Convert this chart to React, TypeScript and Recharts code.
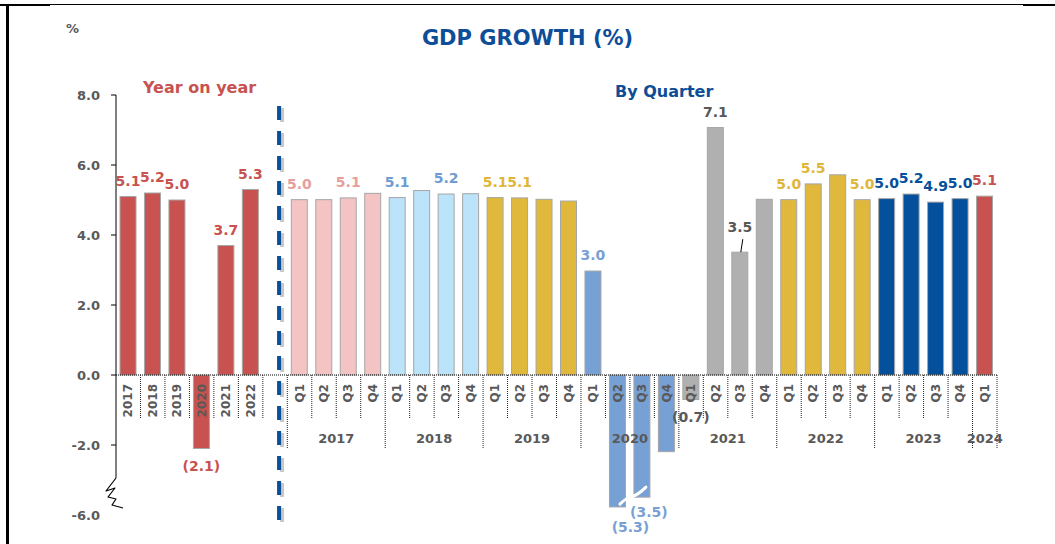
import React from 'react';
import { BarChart, Bar, XAxis, YAxis, Cell, LabelList, ReferenceLine } from 'recharts';

// Annual growth (year on year)
const annualYears = ['2017', '2018', '2019', '2020', '2021', '2022'];
const annualGrowth = [5.1, 5.2, 5.0, -2.1, 3.7, 5.3];

// Quarterly growth
const quarterNames = ['Q1', 'Q2', 'Q3', 'Q4'];
const quarterYears = ['2017', '2018', '2019', '2020', '2021', '2022', '2023', '2024'];
const quarterlyGrowth = [
  5.01, 5.01, 5.06, 5.19,
  5.07, 5.27, 5.17, 5.18,
  5.07, 5.06, 5.02, 4.97,
  2.97, -5.32, -3.49, -2.19,
  -0.7, 7.07, 3.51, 5.02,
  5.01, 5.46, 5.72, 5.01,
  5.04, 5.17, 4.94, 5.04,
  5.11,
];

// y axis ticks (the chart breaks its axis below -2)
const yTickValues = [8, 6, 4, 2, 0, -2, -4];
const yTickLabels = ['8.0', '6.0', '4.0', '2.0', '0.0', '-2.0', '-6.0'];

const shownQuarterLabels = [
  '2017Q1', '2017Q3', '2018Q1', '2018Q3', '2019Q1', '2019Q2',
  '2020Q1', '2020Q2', '2020Q3', '2021Q1', '2021Q2', '2021Q3',
  '2022Q1', '2022Q2', '2022Q4', '2023Q1', '2023Q2', '2023Q3', '2023Q4', '2024Q1',
];

const ANNUAL_COLOR = '#C8524F';
const barColors: Record<string, string> = {
  '2017': '#F4C4C4', '2018': '#BBE3FA', '2019': '#E0B93C', '2020': '#77A0D4',
  '2021': '#B0B0B0', '2022': '#E0B93C', '2023': '#05509C', '2024': '#C8524F',
};
const labelColors: Record<string, string> = {
  '2017': '#E69E9E', '2018': '#6F9BD2', '2019': '#DFB63A', '2020': '#79A0D4',
  '2021': '#595959', '2022': '#DFB63A', '2023': '#05509C', '2024': '#C8524F',
};
// small label nudges like in the original
const labelNudge: Record<string, [number, number]> = {
  '2020Q2': [13, 3],
  '2020Q3': [7, -2],
  '2021Q3': [0, -9],
};

type Row = { id: string; label: string; year: string; kind: string; value: number | null };

const rows: Row[] = [
  ...annualYears.map((y, i) => ({ id: 'Y' + y, label: y, year: y, kind: 'annual', value: annualGrowth[i] })),
  { id: 'gap', label: '', year: '', kind: 'gap', value: null },
  ...quarterlyGrowth.map((v, i) => {
    const y = quarterYears[Math.floor(i / 4)];
    const q = quarterNames[i % 4];
    return { id: y + q, label: q, year: y, kind: 'quarter', value: v };
  }),
];
// bars / labels are indexed without the empty slot
const barRows = rows.filter((r) => r.value != null);

// layout
const W = 1055;
const H = 544;
const PLOT_LEFT = 116;
const PLOT_RIGHT = 997;
const PLOT_TOP = 95;
const PLOT_BOTTOM = 515;
const Y_MIN = -4;
const Y_MAX = 8;
const Y_AXIS_W = 60;
const X_AXIS_H = 20;
const PLOT_H = PLOT_BOTTOM - PLOT_TOP;
const BAND = (PLOT_RIGHT - PLOT_LEFT) / rows.length;
const yOf = (v: number) => PLOT_TOP + ((Y_MAX - v) / (Y_MAX - Y_MIN)) * PLOT_H;
const ZERO_Y = yOf(0);
const BREAK_Y = yOf(-3.77);
const TEXT_GRAY = '#595959';
const FONT = 'DejaVu Sans';

const isGroupStart = (i: number) =>
  rows[i].kind === 'quarter' && (rows[i - 1].kind !== 'quarter' || rows[i - 1].year !== rows[i].year);
const groupSize = (year: string) => rows.filter((r) => r.kind === 'quarter' && r.year === year).length;

const XTick = (props: any) => {
  const { x, payload } = props;
  const i = payload.index;
  const row = rows[i];
  const left = x - BAND / 2;
  const shortLen = 43;
  const longLen = 74;
  const sep = (sx: number, len: number, key: string) => (
    <line key={key} x1={sx} x2={sx} y1={ZERO_Y} y2={ZERO_Y + len} stroke="#222" strokeDasharray="1 1" />
  );
  const items: any[] = [];
  if (i > 0) items.push(sep(left, isGroupStart(i) ? longLen : shortLen, 'l'));
  if (i === rows.length - 1) items.push(sep(x + BAND / 2, longLen, 'r'));
  if (row.label) {
    items.push(
      <text
        key="t"
        x={x}
        y={ZERO_Y + 9}
        transform={`rotate(-90 ${x} ${ZERO_Y + 9})`}
        textAnchor="end"
        dominantBaseline="central"
        fontSize={12}
        fontWeight="bold"
        fill={TEXT_GRAY}
        fontFamily={FONT}
      >
        {row.label}
      </text>
    );
  }
  if (isGroupStart(i)) {
    const cx = x + ((groupSize(row.year) - 1) * BAND) / 2;
    items.push(
      <text key="g" x={cx} y={ZERO_Y + 63} textAnchor="middle" dominantBaseline="central"
        fontSize={13} fontWeight="bold" fill={TEXT_GRAY} fontFamily={FONT}>
        {row.year}
      </text>
    );
  }
  return <g>{items}</g>;
};

const YTick = (props: any) => {
  const { y, payload } = props;
  const v = payload.value;
  const idx = yTickValues.indexOf(v);
  const step = PLOT_H / (yTickValues.length - 1);
  const last = idx === yTickValues.length - 1;
  return (
    <g>
      <text x={PLOT_LEFT - 16} y={y} textAnchor="end" dominantBaseline="central"
        fontSize={13} fontWeight="bold" fill={TEXT_GRAY} fontFamily={FONT}>
        {yTickLabels[idx]}
      </text>
      {!last && <line x1={PLOT_LEFT - 5} x2={PLOT_LEFT} y1={y} y2={y} stroke="#000" />}
      {!last && idx < yTickValues.length - 2 && (
        <line x1={PLOT_LEFT} x2={PLOT_LEFT} y1={y} y2={y + step} stroke="#000" />
      )}
      {idx === yTickValues.length - 2 && (
        <g>
          <line x1={PLOT_LEFT} x2={PLOT_LEFT} y1={y} y2={y + 33} stroke="#000" />
          <path
            d={`M${PLOT_LEFT} ${y + 33} L${PLOT_LEFT - 10} ${y + 46} L${PLOT_LEFT - 1} ${y + 43} L${PLOT_LEFT - 8} ${y + 52} L${PLOT_LEFT} ${y + 54} L${PLOT_LEFT - 4} ${y + 60} L${PLOT_LEFT + 7} ${y + 63}`}
            fill="none"
            stroke="#000"
            strokeWidth={1.2}
            strokeLinejoin="round"
          />
        </g>
      )}
    </g>
  );
};

const BarShape = (props: any) => {
  const { x, y, width, height, fill, index, payload } = props;
  const row: Row | undefined = payload && payload.id ? payload : barRows[index];
  const top = Math.min(y, y + height);
  let bottom = Math.max(y, y + height);
  if (bottom > BREAK_Y) bottom = BREAK_Y;
  return (
    <g>
      <rect x={x} y={top} width={width} height={bottom - top} fill={fill} stroke="#A6A6A6" strokeWidth={1} />
      {row && row.id === '2020Q3' && (
        <path
          d={`M${x - 14} ${bottom + 7} Q${x - 8} ${bottom + 1} ${x - 3} ${bottom} Q${x + 4} ${bottom - 2} ${x + 12} ${bottom - 10}`}
          fill="none"
          stroke="#fff"
          strokeWidth={3}
          strokeLinecap="round"
        />
      )}
    </g>
  );
};

const ValueLabel = (props: any) => {
  const { x, y, width, height, index, value } = props;
  const row = barRows[index];
  if (!row || row.value == null) return null;
  if (row.kind === 'quarter' && !shownQuarterLabels.includes(row.id)) return null;
  const v = Number(value);
  const top = Math.min(y, y + height);
  const bottom = Math.min(Math.max(y, y + height), BREAK_Y);
  const [dx, dy] = labelNudge[row.id] || [0, 0];
  const cx = x + width / 2 + dx;
  const cy = (v >= 0 ? top - 16 : bottom + 17) + dy;
  const color = row.kind === 'annual' ? ANNUAL_COLOR : labelColors[row.year];
  const text = v >= 0 ? v.toFixed(1) : `(${Math.abs(v).toFixed(1)})`;
  return (
    <g>
      <text x={cx} y={cy} textAnchor="middle" dominantBaseline="central"
        fontSize={14} fontWeight="bold" fill={color} fontFamily={FONT}>
        {text}
      </text>
      {row.id === '2021Q3' && <line x1={cx + 3} y1={cy + 12} x2={cx + 1} y2={top} stroke="#000" />}
    </g>
  );
};

const DashedDivider = (props: any) => {
  const { x1, y1, y2 } = props;
  const x = x1 + 4;
  return (
    <g>
      <line x1={x + 3} x2={x + 3} y1={y1 + 7} y2={y2 + 9} stroke="#C8C8C8" strokeWidth={4} strokeDasharray="14 11" />
      <line x1={x} x2={x} y1={y1 + 5} y2={y2 + 7} stroke="#0B4F9A" strokeWidth={4} strokeDasharray="14 11" />
    </g>
  );
};

const App: React.FC = () => {
  return (
    <div style={{ position: 'absolute', left: 0, top: 0, width: W, height: H, background: '#fff', fontFamily: FONT }}>
      <div style={{ position: 'absolute', left: 6, top: 4, width: W - 6, height: H - 4, borderLeft: '3px solid #000', borderTop: '1px solid #000', boxSizing: 'border-box' }} />
      <div style={{ position: 'absolute', left: 0, top: 4, width: 50, height: 2, background: '#000' }} />
      <div style={{ position: 'absolute', left: 1023, top: 4, width: 32, height: 2, background: '#000' }} />

      <div style={{ position: 'absolute', left: 66, top: 21, fontSize: 13, fontWeight: 'bold', color: TEXT_GRAY }}>%</div>
      <div style={{ position: 'absolute', left: 0, width: W, top: 26, textAlign: 'center', fontSize: 21, fontWeight: 'bold', color: '#0E4D97' }}>
        GDP GROWTH (%)
      </div>
      <div style={{ position: 'absolute', left: 143, top: 78, fontSize: 16, fontWeight: 'bold', color: ANNUAL_COLOR }}>Year on year</div>
      <div style={{ position: 'absolute', left: 615, top: 82, fontSize: 16, fontWeight: 'bold', color: '#0E4D97' }}>By Quarter</div>

      <div style={{ position: 'absolute', left: 0, top: 0 }}>
        <BarChart
          width={W}
          height={H}
          data={rows}
          margin={{ top: PLOT_TOP, right: W - PLOT_RIGHT, left: PLOT_LEFT - Y_AXIS_W, bottom: H - PLOT_BOTTOM - X_AXIS_H }}
        >
          <XAxis dataKey="id" interval={0} axisLine={false} tickLine={false} height={X_AXIS_H} tick={(p: any) => <XTick {...p} />} />
          <YAxis
            domain={[Y_MIN, Y_MAX]}
            ticks={yTickValues}
            allowDataOverflow
            axisLine={false}
            tickLine={false}
            interval={0}
            width={Y_AXIS_W}
            tick={(p: any) => <YTick {...p} />}
          />
          <ReferenceLine y={0} stroke="#000" strokeDasharray="1 1" />
          <ReferenceLine x="gap" shape={(p: any) => <DashedDivider {...p} />} />
          <Bar dataKey="value" barSize={16} isAnimationActive={false} shape={(p: any) => <BarShape {...p} />}>
            {rows.map((r) => (
              <Cell key={r.id} fill={r.kind === 'annual' ? ANNUAL_COLOR : barColors[r.year] || '#fff'} />
            ))}
            <LabelList dataKey="value" content={(p: any) => <ValueLabel {...p} />} />
          </Bar>
        </BarChart>
      </div>
    </div>
  );
};

export default App;
